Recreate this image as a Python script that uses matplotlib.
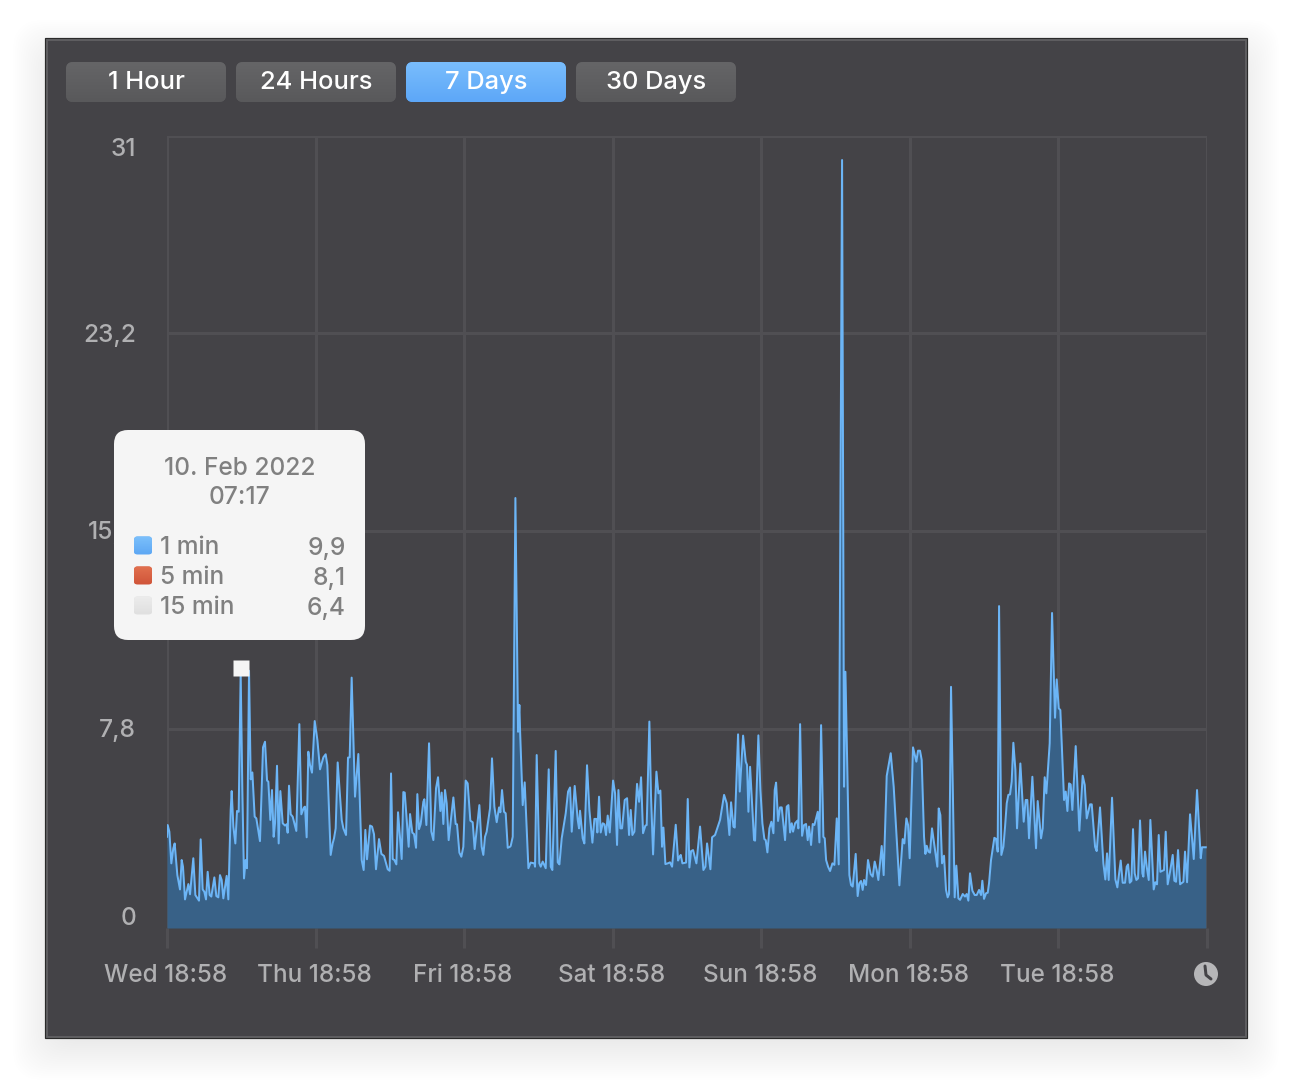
# plot.py
# CPU load history panel, 7 days view

import numpy as np
import matplotlib
matplotlib.use("Agg")
import matplotlib.pyplot as plt
from matplotlib.patches import FancyBboxPatch, Rectangle, Circle
from matplotlib.transforms import ScaledTranslation


# ========== Data ==========
hours = [
    0.00, 0.11, 0.38, 0.70, 1.02, 1.24, 1.67, 2.10, 2.37, 2.58,
    2.91, 3.45, 3.72, 4.25, 4.58, 5.17, 5.44, 5.76, 6.03, 6.30,
    6.57, 6.89, 7.16, 7.65, 7.97, 8.29, 8.56, 8.83, 9.10, 9.64,
    9.91, 10.29, 10.45, 10.72, 11.04, 11.31, 11.58, 11.90, 12.17, 12.44,
    12.71, 12.92, 13.25, 13.52, 13.79, 14.16, 14.43, 15.02, 15.51, 15.83,
    16.16, 16.37, 16.69, 16.96, 17.23, 17.45, 17.77, 18.04, 18.31, 18.69,
    19.06, 19.33, 19.49, 19.71, 19.98, 20.30, 20.89, 21.38, 21.70, 22.13,
    22.29, 22.56, 22.83, 23.10, 23.42, 23.86, 24.29, 24.72, 25.26, 25.63,
    25.90, 26.44, 26.76, 26.98, 27.25, 27.57, 27.95, 28.22, 28.49, 28.92,
    29.24, 29.51, 29.83, 30.37, 30.91, 31.45, 31.77, 32.04, 32.31, 32.80,
    33.12, 33.44, 33.76, 34.25, 34.63, 35.06, 35.65, 35.97, 36.19, 36.46,
    36.73, 37.05, 37.32, 37.91, 38.18, 38.40, 39.04, 39.26, 39.63, 39.90,
    40.23, 40.44, 40.71, 40.98, 41.41, 41.57, 41.90, 42.33, 42.70, 43.03,
    43.46, 43.78, 44.16, 44.37, 44.64, 44.91, 45.18, 45.50, 46.26, 46.63,
    46.85, 47.23, 47.55, 47.87, 48.25, 48.57, 49.00, 49.38, 49.70, 50.46,
    50.83, 51.10, 51.37, 51.64, 52.18, 52.50, 52.88, 53.26, 53.64, 53.85,
    54.12, 54.44, 54.71, 55.04, 55.41, 55.52, 55.85, 56.28, 56.71, 56.92,
    57.03, 57.46, 57.78, 58.38, 58.75, 59.35, 59.45, 59.72, 60.15, 60.37,
    60.69, 61.18, 61.66, 61.99, 62.25, 62.79, 63.12, 63.39, 63.76, 64.41,
    64.79, 65.11, 65.38, 65.86, 66.35, 66.56, 66.72, 67.15, 67.42, 67.85,
    68.23, 68.72, 69.04, 69.36, 69.52, 69.79, 70.06, 70.39, 70.66, 70.92,
    71.19, 71.52, 72.06, 72.38, 72.70, 72.92, 73.24, 73.51, 73.94, 74.32,
    74.64, 74.91, 75.18, 75.50, 75.93, 76.26, 76.58, 76.90, 77.28, 77.49,
    77.92, 78.19, 78.52, 79.06, 79.38, 79.70, 79.97, 80.19, 80.51, 80.89,
    81.26, 81.59, 82.18, 82.56, 82.77, 82.99, 83.26, 83.85, 84.12, 84.39,
    84.66, 84.98, 85.52, 86.11, 86.65, 86.97, 87.24, 87.78, 88.05, 88.53,
    89.34, 89.99, 90.42, 90.85, 91.12, 91.50, 91.71, 92.25, 92.52, 93.06,
    93.49, 93.70, 93.92, 94.19, 94.83, 95.00, 95.53, 95.86, 96.18, 96.50,
    96.72, 96.99, 97.31, 97.63, 97.96, 98.17, 98.39, 98.71, 99.03, 99.30,
    99.84, 100.11, 100.38, 100.65, 100.92, 101.13, 101.46, 101.83, 101.99, 102.27,
    102.59, 102.91, 103.23, 103.50, 103.72, 104.04, 104.31, 104.58, 105.12, 105.39,
    105.66, 106.03, 106.25, 106.47, 106.79, 107.11, 107.49, 107.81, 108.19, 108.51,
    109.05, 109.37, 109.59, 110.23, 110.50, 110.77, 111.25, 111.57, 111.84, 112.11,
    112.38, 112.60, 112.92, 113.24, 113.67, 114.00, 114.32, 114.64, 114.91, 115.45,
    115.77, 116.26, 116.91, 117.39, 118.31, 118.84, 119.11, 119.44, 119.71, 119.97,
    120.51, 121.05, 121.32, 121.64, 121.91, 122.29, 122.51, 122.72, 122.99, 123.26,
    123.58, 124.44, 124.66, 124.93, 125.20, 125.52, 125.84, 126.11, 126.33, 126.65,
    127.24, 127.51, 127.84, 128.11, 128.54, 128.91, 129.18, 129.45, 129.72, 130.10,
    130.48, 130.80, 131.18, 131.50, 131.71, 131.98, 132.31, 132.58, 132.79, 133.11,
    133.65, 133.92, 134.19, 134.41, 134.78, 135.11, 135.38, 135.65, 135.91, 136.18,
    136.45, 136.72, 137.05, 137.31, 137.85, 138.39, 138.71, 138.98, 139.25, 139.79,
    140.38, 140.65, 141.19, 141.46, 141.78, 142.05, 142.59, 142.97, 143.45, 143.72,
    144.05, 144.31, 144.91, 145.18, 145.45, 145.72, 145.98, 146.25, 146.79, 147.38,
    147.92, 148.25, 148.57, 149.11, 149.38, 149.92, 150.18, 150.72, 151.26, 151.58,
    151.85, 152.12, 152.66, 153.20, 153.52, 154.06, 154.38, 154.76, 155.03, 155.25,
    155.52, 155.79, 156.05, 156.32, 156.59, 156.86, 157.18, 157.56, 157.72, 157.99,
    158.26, 158.59, 158.85, 159.39, 159.66, 159.93, 160.20, 160.47, 161.06, 161.33,
    161.65, 162.03, 162.46, 162.73, 163.00, 163.32, 163.65, 164.19, 164.45, 164.78,
    165.26, 165.86, 166.39, 166.99, 167.20, 167.80,
]

load_1min = [
    3.57, 4.03, 3.77, 2.53, 3.12, 3.31, 2.07, 1.51, 2.66, 2.40,
    1.12, 1.72, 1.32, 2.73, 1.29, 1.07, 3.47, 1.51, 1.42, 1.12,
    2.20, 1.29, 1.23, 1.98, 1.25, 1.20, 2.07, 1.88, 1.16, 2.04,
    1.12, 4.62, 5.36, 3.97, 3.31, 4.58, 4.55, 9.97, 5.40, 1.94,
    2.66, 2.34, 10.07, 5.82, 6.09, 4.36, 4.29, 3.40, 7.07, 7.29,
    5.77, 5.73, 4.23, 5.40, 3.57, 4.10, 6.35, 3.31, 5.36, 4.10,
    4.01, 4.06, 3.73, 5.57, 4.45, 4.36, 3.80, 7.98, 4.45, 4.72,
    4.75, 3.55, 6.90, 6.38, 6.08, 8.10, 7.36, 6.21, 6.68, 6.80,
    6.38, 2.86, 3.31, 3.51, 3.90, 6.48, 5.14, 4.23, 3.90, 3.64,
    6.67, 6.68, 9.80, 5.14, 6.81, 2.66, 2.27, 3.84, 2.69, 4.01,
    3.97, 3.67, 2.30, 3.48, 2.90, 2.82, 2.30, 2.24, 6.05, 2.70,
    2.66, 2.49, 4.53, 2.70, 5.32, 5.30, 3.18, 4.46, 3.73, 3.68,
    3.14, 5.24, 3.87, 4.07, 4.94, 5.04, 4.03, 7.23, 3.77, 3.44,
    5.47, 5.90, 4.58, 5.30, 4.07, 5.40, 4.88, 3.44, 5.11, 4.07,
    4.06, 2.95, 2.79, 3.18, 5.77, 5.66, 4.20, 4.14, 3.09, 4.81,
    3.18, 2.86, 3.57, 3.77, 4.68, 6.64, 4.75, 4.14, 4.72, 4.53,
    5.40, 4.55, 4.49, 3.14, 3.18, 3.21, 3.57, 16.83, 7.68, 8.73,
    7.75, 4.81, 5.70, 2.34, 2.56, 2.53, 2.40, 6.77, 2.53, 2.40,
    2.60, 2.34, 6.21, 2.40, 2.27, 6.93, 2.57, 2.49, 3.51, 4.49,
    5.34, 5.50, 3.77, 5.56, 4.23, 3.90, 4.59, 3.51, 3.31, 6.37,
    4.62, 3.34, 4.27, 4.27, 3.74, 5.14, 3.74, 4.10, 4.06, 3.64,
    4.40, 3.74, 5.77, 5.27, 3.25, 5.40, 3.90, 3.90, 5.01, 5.08,
    3.64, 4.62, 3.64, 3.77, 5.64, 4.94, 5.90, 3.71, 4.01, 4.03,
    8.08, 5.14, 2.88, 6.12, 5.27, 5.38, 3.18, 3.93, 2.50, 2.53,
    2.57, 2.40, 4.04, 2.64, 2.77, 2.86, 2.53, 2.56, 5.05, 2.37,
    3.01, 3.05, 2.53, 3.97, 2.27, 2.40, 3.31, 2.30, 3.55, 3.64,
    4.23, 5.21, 4.88, 3.64, 4.92, 3.97, 3.93, 7.58, 5.34, 7.53,
    6.51, 6.38, 4.55, 6.31, 3.44, 3.42, 7.54, 5.40, 4.10, 3.48,
    3.44, 2.96, 3.90, 4.16, 3.71, 5.40, 5.69, 4.19, 4.72, 4.72,
    3.44, 4.75, 4.81, 3.74, 4.10, 3.77, 4.10, 4.20, 3.90, 7.98,
    3.61, 4.03, 4.07, 3.44, 3.97, 3.25, 4.07, 4.03, 4.55, 3.35,
    7.94, 3.57, 3.51, 2.66, 2.40, 2.23, 2.53, 2.47, 4.29, 2.49,
    30.06, 5.53, 10.03, 2.07, 1.68, 1.62, 2.90, 1.25, 1.75, 1.84,
    1.49, 1.88, 1.68, 2.66, 2.11, 2.01, 2.60, 2.27, 1.88, 3.21,
    2.07, 5.95, 6.84, 5.53, 1.67, 3.48, 3.31, 4.29, 4.03, 2.73,
    7.07, 6.51, 6.94, 6.94, 6.58, 3.57, 2.90, 3.22, 2.99, 2.95,
    3.90, 2.40, 4.68, 4.42, 2.53, 2.83, 1.49, 1.20, 1.33, 9.44,
    1.20, 2.44, 1.16, 1.10, 1.33, 1.23, 1.33, 1.07, 2.14, 1.46,
    1.29, 1.29, 1.49, 1.29, 1.85, 1.14, 1.36, 1.38, 1.75, 2.66,
    3.53, 3.49, 2.99, 12.60, 2.86, 3.18, 3.97, 4.88, 5.21, 5.23,
    5.73, 7.25, 6.18, 3.90, 6.44, 4.16, 5.01, 5.01, 3.51, 5.92,
    3.12, 4.97, 3.51, 3.90, 5.90, 5.27, 7.23, 12.33, 8.23, 9.73,
    8.60, 8.53, 5.01, 5.34, 4.58, 5.66, 5.62, 4.62, 7.12, 3.81,
    5.96, 5.60, 4.29, 4.84, 4.84, 3.18, 3.01, 4.72, 2.53, 1.90,
    2.92, 1.88, 5.10, 1.90, 1.59, 2.64, 1.77, 1.77, 2.40, 2.49,
    1.77, 1.84, 3.87, 2.14, 1.88, 1.94, 4.21, 2.14, 2.01, 2.99,
    2.40, 1.88, 4.23, 1.51, 1.79, 1.71, 3.64, 2.20, 2.27, 3.77,
    1.71, 2.20, 2.86, 1.85, 1.81, 3.05, 1.71, 1.81, 2.99, 1.79,
    4.45, 2.70, 5.40, 2.73, 3.16, 3.16,
]

y_ticks = [0, 7.8, 15.55, 23.27, 31]
y_labels = ["0", "7,8", "15,5", "23,2", "31"]
x_ticks = [0, 24, 48, 72, 96, 120, 144, 168]
x_labels = ["Wed 18:58", "Thu 18:58", "Fri 18:58", "Sat 18:58", "Sun 18:58",
            "Mon 18:58", "Tue 18:58", ""]

buttons = ["1 Hour", "24 Hours", "7 Days", "30 Days"]
tooltip_title = ["10. Feb 2022", "07:17"]
tooltip_names = ["1 min", "5 min", "15 min"]
tooltip_values = ["9,9", "8,1", "6,4"]
selected_hour = 11.9
selected_load = 10.17


# ========== Style ==========
plt.rcParams["font.family"] = ["Inter", "Roboto", "DejaVu Sans"]

W, H = 1292, 1092
PANEL = "#444347"
GRID = "#504f53"
LABEL = "#b0b0b2"
TOOLTIP_TEXT = "#808080"
SWATCHES = [("#7cc0fb", "#5ea8f4"), ("#e2714f", "#d0553a"), ("#ececec", "#e0e0e0")]


def px(size):
    # font sizes and line widths below are read in pixels
    return size * 72 / 100


def rounded(ax, x, y, w, h, r, top, bottom, zorder=3):
    box = FancyBboxPatch((x + r, y + r), w - 2 * r, h - 2 * r,
                         boxstyle=f"round,pad={r},rounding_size={r}",
                         fc=bottom, ec="none", zorder=zorder)
    ax.add_patch(box)
    if top != bottom:
        grad = matplotlib.colors.LinearSegmentedColormap.from_list("g", [top, bottom])
        img = ax.imshow(np.linspace(0, 1, 64).reshape(-1, 1), cmap=grad, aspect="auto",
                        extent=(x, x + w, y + h, y), zorder=zorder + 0.1)
        img.set_clip_path(box)


# ========== Window ==========
fig = plt.figure(figsize=(W / 100, H / 100), dpi=100, facecolor="white")

back = fig.add_axes([0, 0, 1, 1], zorder=0)
back.set_xlim(0, W)
back.set_ylim(H, 0)
back.axis("off")

# soft shadow round the window
for grow in range(-10, 34, 2):
    back.add_patch(FancyBboxPatch((45 - grow, 38 - grow + 14), 1202 + 2 * grow,
                                  1000 + 2 * grow - 4, boxstyle="round,pad=0,rounding_size=30",
                                  fc="black", ec="none", alpha=0.0055, zorder=1))

back.add_patch(Rectangle((45, 38), 1202, 1000, fc=PANEL, ec="#2a2a2a", lw=px(1.2), zorder=2))
back.add_patch(Rectangle((46.5, 39.5), 1199, 997, fc="none", ec="#616163", lw=px(1.8), zorder=2.1))

for i, name in enumerate(buttons):
    x = 66 + i * 170
    active = name == "7 Days"
    top, bottom = ("#79bdfc", "#5da7f8") if active else ("#656567", "#59595b")
    rounded(back, x, 62, 160, 40, 7, top, bottom)
    back.text(x + 80, 82.5, name, color="white", fontsize=px(25.5), fontweight="medium",
              ha="center", va="center", zorder=4)
back.set_xlim(0, W)
back.set_ylim(H, 0)


# ========== Chart ==========
ax = fig.add_axes([167 / W, (H - 928) / H, 1040 / W, 792 / H], zorder=1)
ax.patch.set_alpha(0)
ax.set_xlim(0, 168)
ax.set_ylim(0, 31)

ax.fill_between(hours, load_1min, 0, color="#386187", lw=0, zorder=2)
ax.plot(hours, load_1min, color="#6cb5f6", lw=px(2), solid_joinstyle="round", zorder=3)
ax.plot([selected_hour], [selected_load], marker="s", ms=px(16), mfc="#f5f5f5", mec="none",
        zorder=4, clip_on=False)

ax.set_yticks(y_ticks, y_labels)
ax.set_xticks(x_ticks, x_labels)
ax.grid(True, color=GRID, lw=px(3))
ax.set_axisbelow(True)
for spine in ax.spines.values():
    spine.set_visible(False)
ax.tick_params(axis="x", length=px(20), width=px(3), color=GRID, labelcolor=LABEL,
               labelsize=px(24.3), pad=px(15.5))
ax.tick_params(axis="y", length=0, labelcolor=LABEL, labelsize=px(24.5), pad=px(31))
for label in ax.get_xticklabels():
    label.set_fontweight("medium")
    label.set_transform(label.get_transform() + ScaledTranslation(px(-1.5) / 72, 0, fig.dpi_scale_trans))
for label, tick in zip(ax.get_yticklabels(), y_ticks):
    label.set_fontweight("medium")
    if tick == 0:
        label.set_va("bottom")
    elif tick == 31:
        label.set_va("top")
    else:
        label.set_va("center")
    label.set_transform(label.get_transform() + ScaledTranslation(0, px(-2) / 72, fig.dpi_scale_trans))


# ========== Tooltip and clock ==========
top = fig.add_axes([0, 0, 1, 1], zorder=2)
top.patch.set_alpha(0)
top.set_xlim(0, W)
top.set_ylim(H, 0)
top.axis("off")

rounded(top, 114, 430, 251, 210, 14, "#f5f5f5", "#f5f5f5")
for i, line in enumerate(tooltip_title):
    top.text(240, 468.5 + i * 29.5, line, color=TOOLTIP_TEXT, fontsize=px(24.5), fontweight="medium",
             ha="center", va="center", zorder=5)
for i, name in enumerate(tooltip_names):
    y = 545.5 + i * 30
    rounded(top, 134, y - 9, 18, 18, 3.5, SWATCHES[i][0], SWATCHES[i][1], zorder=5)
    top.text(160, y + 2.5, name, color=TOOLTIP_TEXT, fontsize=px(24.5), fontweight="medium",
             ha="left", va="center", zorder=6)
    top.text(346, y + 2.5, tooltip_values[i], color=TOOLTIP_TEXT, fontsize=px(24.5), fontweight="medium",
             ha="right", va="center", zorder=6)

top.add_patch(Circle((1206, 974), 12, fc="#b6b6b8", ec="none", zorder=5))
top.plot([1205, 1206, 1211], [966, 975, 979], color=PANEL, lw=px(3), zorder=6,
         solid_capstyle="round", solid_joinstyle="round")
top.set_xlim(0, W)
top.set_ylim(H, 0)

fig.savefig("out.png", dpi=100, facecolor="white")
